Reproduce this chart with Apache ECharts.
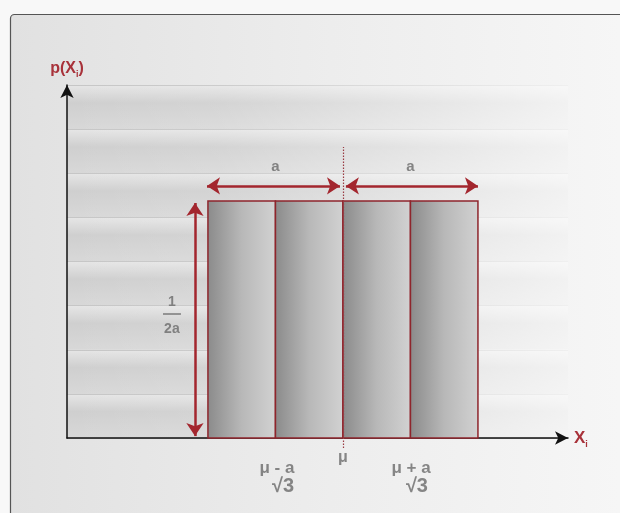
<!DOCTYPE html>
<html><head><meta charset="utf-8">
<script src="https://cdn.jsdelivr.net/npm/echarts@6/dist/echarts.min.js"></script>
<style>html,body{margin:0;padding:0;background:#f7f7f7}#c{width:620px;height:513px}</style>
</head><body><div id="c"></div>
<script>
// Uniform distribution drawn in units of a (a = 1) and centred on mu = 0
const binEdges = [-1, -0.5, 0, 0.5, 1];          // mu-a, mu-a/2, mu, mu+a/2, mu+a
const density = 0.5;                              // 1/(2a)
const xRange = [-2.044, 1.667];
const yMax = 0.745;
const yBands = 8;
const widthArrows = [[-1.007, -0.022], [0.022, 1.0]];
const widthArrowY = 0.532;
const heightArrowX = -1.096;
const heightArrowSpan = [0.004, 0.496];
const meanLineSpan = [-0.021, 0.614];
const topLabels = ['a', 'a'];
const topLabelX = [-0.5, 0.5];
const topLabelY = 0.572;
const fracNum = '1', fracDen = '2a';
const fracX = -1.267, fracNumY = 0.287, fracDenY = 0.23, fracBarY = 0.262, fracBarSpan = [-1.333, -1.2];
const bottomTop = ['μ - a', 'μ + a'];
const bottomTopX = [-0.489, 0.504];
const bottomTopY = -0.063;
const bottomRoot = ['√3', '√3'];
const bottomRootX = [-0.444, 0.548];
const bottomRootY = -0.102;
const meanLabel = 'μ';
const meanLabelY = -0.042;

const bins = [];
for (let i = 0; i < binEdges.length - 1; i++) bins.push([binEdges[i], binEdges[i + 1], density]);

const RED = '#8e252c';
const GREY_TXT = '#6a6a6a';
const FONT = 'Liberation Sans';

const chart = echarts.init(document.getElementById('c'));
function txt(x, y, t, size) {
  return { value: [x, y], label: { show: true, position: 'inside', formatter: t, color: GREY_TXT, fontSize: size || 14, fontWeight: 'bold', fontFamily: FONT } };
}
const annotations = [];
topLabels.forEach((t, i) => annotations.push(txt(topLabelX[i], topLabelY, t, 15)));
annotations.push(txt(fracX, fracNumY, fracNum, 14));
annotations.push(txt(fracX, fracDenY, fracDen, 14));
annotations.push(txt(0, meanLabelY, meanLabel, 16));
bottomTop.forEach((t, i) => annotations.push(txt(bottomTopX[i], bottomTopY, t, 17)));
bottomRoot.forEach((t, i) => annotations.push(txt(bottomRootX[i], bottomRootY, t, 20)));

const option = {
  animation: false,
  backgroundColor: '#f8f8f8',
  graphic: [{
    type: 'rect', z: -10, silent: true,
    shape: { x: 10.5, y: 14.5, width: 640, height: 540, r: 4 },
    style: {
      fill: new echarts.graphic.LinearGradient(0, 0, 1, 0, [
        { offset: 0, color: '#e1e1e1' }, { offset: 0.5, color: '#ededed' }, { offset: 1, color: '#f7f7f7' }]),
      stroke: '#555', lineWidth: 1.2
    }
  }],
  grid: { left: 67, right: 52, top: 85, bottom: 75 },
  xAxis: {
    type: 'value', min: xRange[0], max: xRange[1], z: 3,
    axisLine: { show: true, onZero: false, lineStyle: { color: '#111', width: 1.5 }, symbol: ['none', 'arrow'], symbolSize: [10, 13] },
    axisTick: { show: false }, axisLabel: { show: false }, splitLine: { show: false },
    name: '{m|X}{s|i}', nameLocation: 'end', nameGap: 6,
    nameTextStyle: { rich: {
      m: { color: '#a8323a', fontSize: 17, fontWeight: 'bold', fontFamily: FONT },
      s: { color: '#a8323a', fontSize: 9, fontWeight: 'bold', fontFamily: FONT, padding: [14, 0, 0, 0] } } }
  },
  yAxis: {
    type: 'value', min: 0, max: yMax, interval: yMax / yBands,
    axisLine: { show: true, onZero: false, lineStyle: { color: '#111', width: 1.5 }, symbol: ['none', 'arrow'], symbolSize: [10, 13] },
    axisTick: { show: false }, axisLabel: { show: false },
    splitLine: { show: true, lineStyle: { color: '#c6c6c6', width: 1 } },
    splitArea: { show: true, areaStyle: { color: [
      new echarts.graphic.LinearGradient(0, 0, 0, 1, [
        { offset: 0, color: '#e6e6e6' }, { offset: 0.4, color: '#cfcfcf' }, { offset: 1, color: '#d8d8d8' }])
    ] } },
    name: '{m|p(X}{s|i}{m|)}', nameLocation: 'end', nameGap: 6,
    nameTextStyle: { align: 'center', rich: {
      m: { color: '#a8323a', fontSize: 16, fontWeight: 'bold', fontFamily: FONT },
      s: { color: '#a8323a', fontSize: 9, fontWeight: 'bold', fontFamily: FONT, padding: [12, 0, 0, 0] } } }
  },
  series: [
    { // horizontal fade of the background bands
      type: 'custom', z: 1, silent: true,
      data: [[xRange[0], xRange[1], yMax]],
      renderItem: function (params, api) {
        const p0 = api.coord([api.value(0), api.value(2)]);
        const p1 = api.coord([api.value(1), 0]);
        return { type: 'rect', shape: { x: p0[0], y: p0[1], width: p1[0] - p0[0], height: p1[1] - p0[1] },
          style: { fill: new echarts.graphic.LinearGradient(0, 0, 1, 0, [
            { offset: 0, color: 'rgba(255,255,255,0)' }, { offset: 0.3, color: 'rgba(255,255,255,0.1)' }, { offset: 1, color: 'rgba(255,255,255,0.72)' }]) } };
      }
    },
    { // histogram bins
      type: 'custom', z: 4,
      data: bins,
      renderItem: function (params, api) {
        const p0 = api.coord([api.value(0), api.value(2)]);
        const p1 = api.coord([api.value(1), 0]);
        return { type: 'rect', shape: { x: p0[0], y: p0[1], width: p1[0] - p0[0], height: p1[1] - p0[1] },
          style: { fill: new echarts.graphic.LinearGradient(0, 0, 1, 0, [
            { offset: 0, color: '#8a8a8a' }, { offset: 0.5, color: '#b8b8b8' }, { offset: 1, color: '#d2d2d2' }]),
            stroke: RED, lineWidth: 1.5 } };
      }
    },
    { // mean dotted line
      type: 'lines', coordinateSystem: 'cartesian2d', z: 5, clip: false, silent: true,
      symbol: 'none',
      lineStyle: { color: '#9a3a42', width: 1.2, type: [1.5, 1.5], opacity: 1 },
      data: [{ coords: [[0, meanLineSpan[0]], [0, meanLineSpan[1]]] }]
    },
    { // double arrows
      type: 'lines', coordinateSystem: 'cartesian2d', z: 6, clip: false, silent: true,
      symbol: ['arrow', 'arrow'], symbolSize: 13,
      lineStyle: { color: '#a3262e', width: 2.5, opacity: 1 },
      data: [
        { coords: [[widthArrows[0][0], widthArrowY], [widthArrows[0][1], widthArrowY]] },
        { coords: [[widthArrows[1][0], widthArrowY], [widthArrows[1][1], widthArrowY]] },
        { coords: [[heightArrowX, heightArrowSpan[0]], [heightArrowX, heightArrowSpan[1]]] }
      ]
    },
    { // fraction bar
      type: 'lines', coordinateSystem: 'cartesian2d', z: 6, clip: false, silent: true,
      symbol: 'none', lineStyle: { color: '#7a7a7a', width: 1.5, opacity: 1 },
      data: [{ coords: [[fracBarSpan[0], fracBarY], [fracBarSpan[1], fracBarY]] }]
    },
    { // text annotations
      type: 'scatter', z: 7, clip: false, silent: true, symbolSize: 0,
      data: annotations
    }
  ]
};
chart.setOption(option);
</script></body></html>
